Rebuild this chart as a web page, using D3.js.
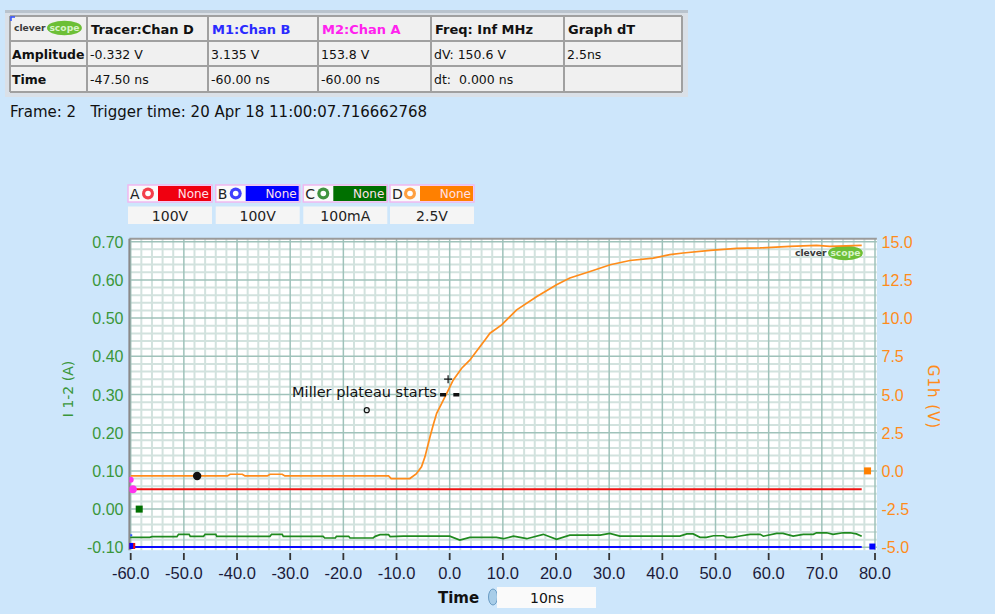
<!DOCTYPE html>
<html><head><meta charset="utf-8">
<script src="https://cdn.jsdelivr.net/npm/d3@7"></script>
<style>body{margin:0;background:#cde6fb;}svg{display:block;font-family:"Liberation Sans",Arial,sans-serif;}</style>
</head><body><svg id="c" width="995" height="614"></svg>
<script>
// ---------- data ----------
const timeTicks = [-60,-50,-40,-30,-20,-10,0,10,20,30,40,50,60,70,80];
const leftTicks = [-0.1,0,0.1,0.2,0.3,0.4,0.5,0.6,0.7];
const rightTicks = [-5,-2.5,0,2.5,5,7.5,10,12.5,15];
// Channel D (orange, right axis, volts)
const orangeT = [-60,-41.8,-41.3,-39.0,-38.5,-34.3,-33.8,-31.5,-31.0,-11.5,-11.0,-7.5,-6.3,-5.3,-4.65,-3.7,-3.1,-2.45,-1.5,-0.56,0.68,2.26,3.82,4.76,6.64,7.58,9.78,12.6,16.4,20.1,22.6,26.4,30.2,33.9,38.3,41.4,43.9,49.0,54.0,58.4,64.0,69.0,71.5,77.5];
const orangeV = [-0.33,-0.33,-0.22,-0.22,-0.33,-0.33,-0.22,-0.22,-0.33,-0.33,-0.5,-0.5,-0.2,0.27,0.92,2.23,3.0,3.77,4.42,5.08,5.95,6.72,7.26,7.70,8.57,9.01,9.56,10.54,11.41,12.18,12.62,13.05,13.49,13.77,13.93,14.15,14.26,14.43,14.56,14.59,14.69,14.76,14.69,14.76];
// Channel C (green, left axis, amps)
const greenT = [-60.1,-56.4,-56.0,-51.3,-51.0,-49.0,-48.8,-46.3,-46.0,-44,-43.8,-33.8,-33.5,-31.5,-31.3,-23.8,-23.5,-21.5,-21.3,-19,-18.75,-14.4,-14,-13.1,-11.5,-11.2,-8.7,0,1.9,3.8,8.8,10.1,12,14.5,17.6,20.1,22.6,28.3,30.1,32,36.4,43.3,44.6,45.8,47.1,48.3,49.6,51.5,52.1,53.3,54.6,56.5,58.4,59,61.5,62.7,64.6,66.5,68.4,69,70.9,72.1,74,75.3,76.5,77.5];
const greenV = [-0.0738,-0.0738,-0.0722,-0.0722,-0.066,-0.066,-0.0713,-0.0713,-0.066,-0.066,-0.0713,-0.0713,-0.066,-0.066,-0.0713,-0.0713,-0.0757,-0.0757,-0.0713,-0.0713,-0.0757,-0.0757,-0.0713,-0.067,-0.067,-0.072,-0.071,-0.071,-0.081,-0.074,-0.074,-0.0775,-0.071,-0.0775,-0.066,-0.079,-0.068,-0.068,-0.0634,-0.0705,-0.0705,-0.0705,-0.065,-0.065,-0.074,-0.074,-0.0697,-0.0697,-0.074,-0.074,-0.0705,-0.066,-0.066,-0.071,-0.0634,-0.0634,-0.0705,-0.066,-0.066,-0.062,-0.062,-0.066,-0.062,-0.062,-0.065,-0.071];
// Channel A (red) and B (blue), left axis
const redT = [-59.5, 77.5];
const redV = [0.052, 0.052];
const blueT = [-59.5, 77.5];
const blueV = [-0.0995, -0.0995];
// table
const tableHeader = ["Tracer:Chan D","M1:Chan B","M2:Chan A","Freq: Inf MHz","Graph dT"];
const tableAmp = ["Amplitude","-0.332 V","3.135 V","153.8 V","dV: 150.6 V","2.5ns"];
const tableTime = ["Time","-47.50 ns","-60.00 ns","-60.00 ns","dt:  0.000 ns",""];
// legend
const channels = ["A","B","C","D"];
const channelScales = ["100V","100V","100mA","2.5V"];
const frameText = "Frame: 2   Trigger time: 20 Apr 18 11:00:07.716662768";
const annotation = "Miller plateau starts";

// ---------- drawing ----------
const DV = '"DejaVu Sans",Verdana,sans-serif';
const svg = d3.select("#c");
svg.append("rect").attr("width",995).attr("height",614).attr("fill","#cde6fb");

const x = d3.scaleLinear().domain([-60,80]).range([130.7,875]);
const yL = d3.scaleLinear().domain([-0.1,0.7]).range([547.3,241.7]);
const yR = d3.scaleLinear().domain([-5,15]).range([547.3,241.7]);

const px0 = x(-60.25), px1 = x(80.35), py0 = yL(0.7075), py1 = yL(-0.1075);

// table panel
const panel = svg.append("g");
panel.append("rect").attr("x",5).attr("y",10).attr("width",683).attr("height",87).attr("fill","#dae0e7");
panel.append("rect").attr("x",5).attr("y",10).attr("width",683).attr("height",3).attr("fill","#b9c3cd");
const colX = [10,87,208,318,431,564,682];
const rowY = [16,41,66,92];
panel.append("rect").attr("x",colX[0]).attr("y",rowY[0]).attr("width",colX[6]-colX[0]).attr("height",rowY[3]-rowY[0]).attr("fill","#f0f0f0");
colX.forEach(cx=>panel.append("line").attr("x1",cx).attr("x2",cx).attr("y1",rowY[0]).attr("y2",rowY[3]).attr("stroke","#a0a0a0").attr("stroke-width",2));
rowY.forEach(ry=>panel.append("line").attr("x1",colX[0]).attr("x2",colX[6]).attr("y1",ry).attr("y2",ry).attr("stroke","#a0a0a0").attr("stroke-width",2));
panel.append("path").attr("d","M11,21 V17 H15").attr("stroke","#3050ff").attr("stroke-width",1.5).attr("fill","none");
const headColors = ["#111","#2a2aff","#ff22ee","#111","#111"];
tableHeader.forEach((t,i)=>panel.append("text").attr("x",colX[i+1]+4).attr("y",34).attr("font-family",DV).attr("font-size",13).attr("font-weight","bold").attr("fill",headColors[i]).text(t));
[tableAmp,tableTime].forEach((row,r)=>row.forEach((t,i)=>panel.append("text").attr("x",colX[i]+(i?3:2)).attr("y",59+25*r).attr("font-family",DV).attr("font-size",i?12.5:12.5).attr("font-weight",i?"normal":"bold").attr("fill","#111").attr("xml:space","preserve").text(t)));

function logo(g, lx, ly, s){
  g.append("text").attr("x",lx).attr("y",ly+3.5*s).attr("font-family",DV).attr("font-size",9.5*s).attr("font-weight","bold").attr("fill","#3a3a3a").text("clever");
  g.append("ellipse").attr("cx",lx+52*s).attr("cy",ly).attr("rx",18*s).attr("ry",7.5*s).attr("fill","#6cbf36");
  g.append("text").attr("x",lx+52*s).attr("y",ly+3.5*s).attr("text-anchor","middle").attr("font-family",DV).attr("font-size",9.5*s).attr("font-weight","bold").attr("fill","#d8f3c8").text("scope");
}
logo(panel, 14, 28, 0.97);

svg.append("text").attr("x",10).attr("y",117).attr("font-family",DV).attr("font-size",15).attr("fill","#111").attr("xml:space","preserve").style("white-space","pre").text(frameText);

// legend
const chColors = ["#f00010","#0000ff","#007000","#ff8000"];
const legX = [128,215.7,303.3,390];
channels.forEach((c,i)=>{
  const g = svg.append("g").attr("transform",`translate(${legX[i]},185)`);
  g.append("rect").attr("x",0).attr("y",0).attr("width",84).attr("height",17).attr("fill","#fafafa").attr("stroke","#f0b8f0").attr("stroke-width",1.5);
  g.append("text").attr("x",2).attr("y",14).attr("font-family",DV).attr("font-size",14).attr("fill","#222").text(c);
  g.append("circle").attr("cx",20).attr("cy",8.5).attr("r",6).attr("fill",chColors[i]).attr("opacity",0.75);
  g.append("circle").attr("cx",20).attr("cy",8.5).attr("r",2.8).attr("fill","#fff");
  g.append("rect").attr("x",30).attr("y",1).attr("width",53).attr("height",15).attr("fill",chColors[i]);
  g.append("text").attr("x",81).attr("y",13).attr("text-anchor","end").attr("font-family",DV).attr("font-size",12).attr("fill","#ffe0e8").text("None");
  g.append("rect").attr("x",0).attr("y",21.5).attr("width",84).attr("height",17.5).attr("fill","#f5f5f5");
  g.append("text").attr("x",42).attr("y",36).attr("text-anchor","middle").attr("font-family",DV).attr("font-size",14).attr("fill","#222").text(channelScales[i]);
});

// plot area
svg.append("rect").attr("x",px0).attr("y",py0).attr("width",px1-px0).attr("height",py1-py0).attr("fill","#ffffff");
const grid = svg.append("g");
const minorX = d3.range(-60,80.01,2).filter(v=>Math.abs(v%10)>0.01);
const minorY = d3.range(-0.1,0.7001,0.02).filter(v=>Math.abs(Math.round(v*100)%10)!==0);
grid.selectAll(".mx").data(minorX).join("line").attr("x1",d=>x(d)).attr("x2",d=>x(d)).attr("y1",py0).attr("y2",py1).attr("stroke","#d2e2de").attr("stroke-width",2);
grid.selectAll(".my").data(minorY).join("line").attr("y1",d=>yL(d)).attr("y2",d=>yL(d)).attr("x1",px0).attr("x2",px1).attr("stroke","#d2e2de").attr("stroke-width",2);
grid.selectAll(".Mx").data(timeTicks).join("line").attr("x1",d=>x(d)).attr("x2",d=>x(d)).attr("y1",py0).attr("y2",py1).attr("stroke","#9fc2ba").attr("stroke-width",1.5);
grid.selectAll(".My").data(leftTicks).join("line").attr("y1",d=>yL(d)).attr("y2",d=>yL(d)).attr("x1",px0).attr("x2",px1).attr("stroke","#9fc2ba").attr("stroke-width",1.5);
svg.append("line").attr("x1",px0).attr("x2",px1).attr("y1",py0).attr("y2",py0).attr("stroke","#9a9a9a").attr("stroke-width",2);
svg.append("line").attr("x1",px0).attr("x2",px0).attr("y1",py0).attr("y2",py1).attr("stroke","#8a8a8a").attr("stroke-width",2);

logo(svg, 795, 253, 0.97);

svg.append("clipPath").attr("id","clip").append("rect").attr("x",px0).attr("y",py0).attr("width",px1-px0).attr("height",py1-py0);
const traces = svg.append("g").attr("clip-path","url(#clip)");
const lineL = d3.line().x(d=>x(d[0])).y(d=>yL(d[1]));
const lineR = d3.line().x(d=>x(d[0])).y(d=>yR(d[1]));
traces.append("path").attr("d",lineL(d3.zip(greenT,greenV))).attr("fill","none").attr("stroke","#1f8a1f").attr("stroke-width",1.7);
traces.append("path").attr("d",lineL(d3.zip(blueT,blueV))).attr("fill","none").attr("stroke","#0a0aff").attr("stroke-width",2);
traces.append("path").attr("d",lineL(d3.zip(redT,redV))).attr("fill","none").attr("stroke","#ee1111").attr("stroke-width",2);
traces.append("path").attr("d",lineR(d3.zip(orangeT,orangeV))).attr("fill","none").attr("stroke","#ff8c1a").attr("stroke-width",1.7);

// markers
traces.append("circle").attr("cx",x(-60)).attr("cy",yL(0.077)).attr("r",3).attr("fill","#ff33ee");
traces.append("circle").attr("cx",x(-59.6)).attr("cy",yL(0.052)).attr("r",4).attr("fill","#ff33ee");
traces.append("rect").attr("x",x(-58.4)-3.5).attr("y",yL(0)-3.5).attr("width",7).attr("height",7).attr("fill","#007000");
traces.append("rect").attr("x",x(-59.9)-3).attr("y",yL(-0.0965)-3).attr("width",7).attr("height",6).attr("fill","#ee1111");
traces.append("rect").attr("x",x(-60.1)-3).attr("y",yL(-0.0965)-3).attr("width",6).attr("height",6).attr("fill","#0000ff");
traces.append("rect").attr("x",x(-59.9)-1).attr("y",yL(-0.0685)-1).attr("width",2).attr("height",2).attr("fill","#3355ff");
traces.append("circle").attr("cx",x(-47.5)).attr("cy",yR(-0.332)).attr("r",4.2).attr("fill","#111");
svg.append("rect").attr("x",x(78.6)-3.5).attr("y",yR(0)-3.5).attr("width",7).attr("height",7).attr("fill","#ff8000");
svg.append("rect").attr("x",x(79.5)-3).attr("y",yR(-4.95)-3).attr("width",6).attr("height",6).attr("fill","#0000ff");

// annotation
svg.append("text").attr("x",x(-2.4)).attr("y",yL(0.293)).attr("text-anchor","end").attr("font-family",DV).attr("font-size",14.5).attr("fill","#111").text(annotation);
svg.append("rect").attr("x",x(-1.25)-3).attr("y",yL(0.3)-1.5).attr("width",6).attr("height",3.5).attr("fill","#111");
svg.append("rect").attr("x",x(1.25)-3).attr("y",yL(0.3)-1.5).attr("width",6).attr("height",3.5).attr("fill","#111");
svg.append("path").attr("d",`M${x(-0.3)-4},${yL(0.34)} h8 M${x(-0.3)},${yL(0.34)-4} v8`).attr("stroke","#111").attr("stroke-width",1.2);
svg.append("circle").attr("cx",x(-15.6)).attr("cy",yL(0.259)).attr("r",2.5).attr("fill","none").attr("stroke","#111").attr("stroke-width",1.2);

// axes
svg.selectAll(".xt").data(timeTicks).join("line").attr("x1",d=>x(d)).attr("x2",d=>x(d)).attr("y1",553).attr("y2",560).attr("stroke","#333").attr("stroke-width",1.8);
svg.selectAll(".xl").data(timeTicks).join("text").attr("x",d=>x(d)).attr("y",579).attr("text-anchor","middle").attr("font-size",16.5).attr("fill","#1b1b3a").text(d=>d.toFixed(1));
svg.selectAll(".yl").data(leftTicks).join("text").attr("x",123.5).attr("y",d=>yL(d)+6).attr("text-anchor","end").attr("font-size",16).attr("fill","#3a963a").text(d=>d.toFixed(2));
svg.selectAll(".yr").data(rightTicks).join("text").attr("x",881.5).attr("y",d=>yR(d)+6).attr("font-size",16).attr("fill","#ff8c1a").text(d=>d.toFixed(1));
svg.append("text").attr("transform","translate(73,389) rotate(-90)").attr("text-anchor","middle").attr("font-family",DV).attr("font-size",14).attr("fill","#3a963a").text("I 1-2 (A)");
svg.append("text").attr("transform","translate(928,397) rotate(90)").attr("text-anchor","middle").attr("font-family",DV).attr("font-size",15).attr("letter-spacing",1).attr("fill","#ff8c1a").text("G1h (V)");

// time footer
svg.append("text").attr("x",438).attr("y",603).attr("font-family",DV).attr("font-size",15).attr("font-weight","bold").attr("fill","#111").text("Time");
svg.append("ellipse").attr("cx",493).attr("cy",597).attr("rx",4.5).attr("ry",8).attr("fill","#a8cde8").attr("stroke","#6a9cc4");
svg.append("rect").attr("x",497).attr("y",587).attr("width",99).attr("height",21).attr("fill","#fafafa");
svg.append("text").attr("x",530).attr("y",603).attr("font-family",DV).attr("font-size",14).attr("fill","#111").text("10ns");
</script></body></html>
